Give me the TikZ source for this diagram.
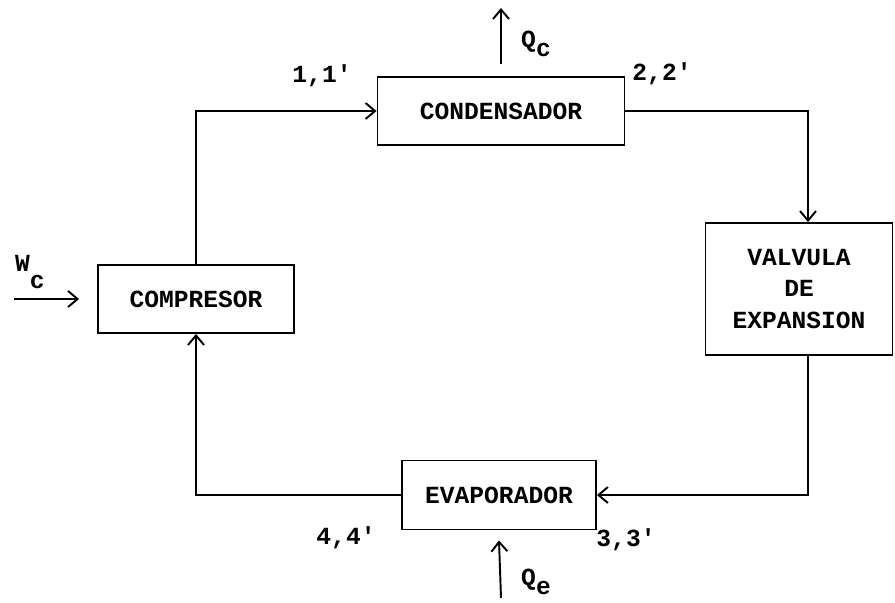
\documentclass[tikz,border=0pt]{standalone}
\usepackage{fontspec}
\setmonofont{Liberation Mono}
\usetikzlibrary{positioning,arrows.meta}

\begin{document}
\begin{tikzpicture}[
    x=0.02cm, y=-0.02cm,
    block/.style={draw, line width=1.1pt, align=center, inner sep=0pt, font=\ttfamily\bfseries\fontsize{14}{18}\selectfont},
    lbl/.style={font=\ttfamily\bfseries\fontsize{14}{18}\selectfont, inner sep=0pt},
    flow/.style={-{Straight Barb[length=1.9mm, width=3.2mm]}, line width=1.1pt},
]
\useasboundingbox (0,0) rectangle (895,602);

% equipos del ciclo
\node[block, minimum width=4.94cm, minimum height=1.36cm] (cond) at (501,111) {CONDENSADOR};
\node[block, minimum width=3.92cm, minimum height=1.36cm] (comp) at (196,299) {COMPRESOR};
\node[block, minimum width=3.74cm, minimum height=2.64cm] (valv) at (799,289) {VALVULA\\ DE\\ EXPANSION};
\node[block, minimum width=3.88cm, minimum height=1.38cm] (evap) at (499,495) {EVAPORADOR};

% lineas de refrigerante
\draw[flow] (comp.north) |- (cond.west);
\draw[flow] (cond.east) -| ([xshift=0.18cm]valv.north);
\draw[flow] ([xshift=0.18cm]valv.south) |- (evap.east);
\draw[flow] (evap.west) -| (comp.south);

% calor y trabajo
\coordinate (qc) at (501,8);
\coordinate (qe) at (501,598);
\coordinate (wc) at (14,299);
\draw[flow] ([yshift=0.24cm]cond.north) -- (qc);
\draw[flow] (qe) -- ([yshift=-0.2cm]evap.south);
\draw[flow] (wc) -- ([xshift=-0.36cm]comp.west);

\node[lbl] (qclbl) at (536,44) {Q\raisebox{-0.7ex}{c}};
\node[lbl] (qelbl) at (536,582) {Q\raisebox{-0.7ex}{e}};
\node[lbl] (wclbl) at (30,272) {W\raisebox{-1.3ex}{c}};

% estados
\node[lbl] (s1) at (322,76) {1,1'};
\node[lbl] (s2) at (662,74) {2,2'};
\node[lbl] (s3) at (626,540) {3,3'};
\node[lbl] (s4) at (346,538) {4,4'};
\end{tikzpicture}
\end{document}
